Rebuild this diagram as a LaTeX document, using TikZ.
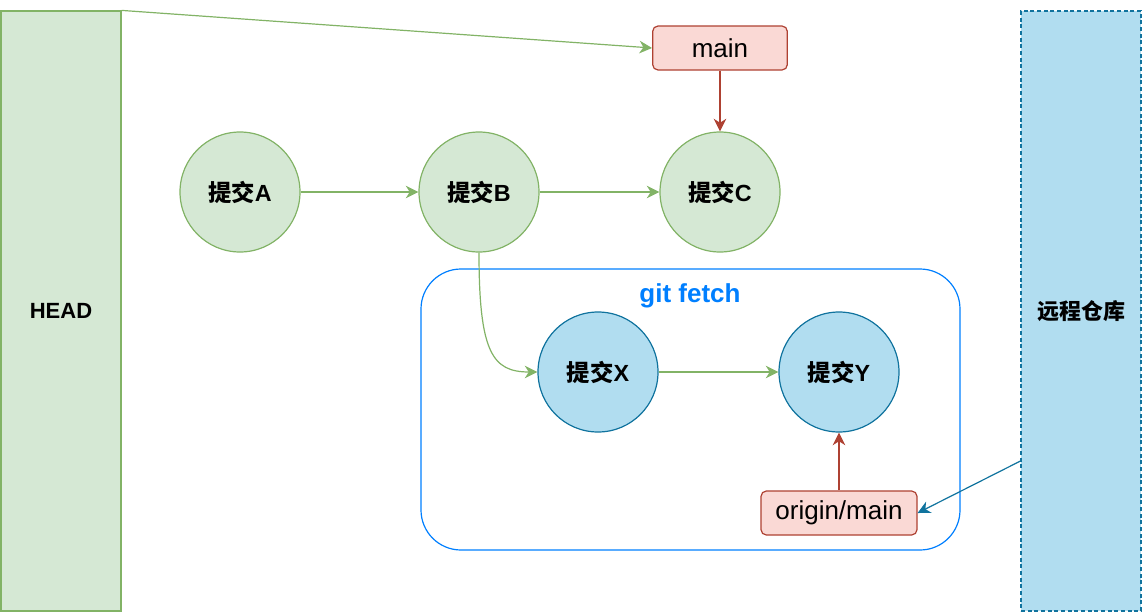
\documentclass[tikz,border=0pt]{standalone}
\usepackage{fontspec}
\setmainfont{Liberation Sans}
\newfontfamily\cjk{Noto Sans CJK SC}
\usetikzlibrary{arrows.meta}

\definecolor{greenfill}{HTML}{D5E8D4}
\definecolor{greendraw}{HTML}{82B366}
\definecolor{bluefill}{HTML}{B1DDF0}
\definecolor{bluedraw}{HTML}{10739E}
\definecolor{redfill}{HTML}{FAD9D5}
\definecolor{reddraw}{HTML}{AE4132}
\definecolor{fetchblue}{HTML}{007FFF}

\begin{document}
\begin{tikzpicture}[
    x=0.75pt,
    y=-0.75pt,
    line width=0.9pt,
    tip/.style={
        -{Stealth[length=9.5pt,width=9.5pt,inset=3pt]}
    },
    local commit/.style={
        circle,
        draw=greendraw,
        fill=greenfill,
        minimum size=90pt,
        font=\fontsize{17.5}{19}\selectfont\bfseries
    },
    fetched commit/.style={
        local commit,
        draw=bluedraw,
        fill=bluefill
    },
    branch/.style={
        draw=reddraw,
        fill=redfill,
        rounded corners=4pt,
        minimum height=33pt,
        font=\fontsize{19.5}{22}\selectfont
    },
    pointer/.style={
        minimum width=90pt,
        minimum height=450pt,
        font=\fontsize{16.5}{18}\selectfont\bfseries
    },
    ]
    \useasboundingbox (0,0) rectangle (1142,614);

    % git fetch frame
    \draw[fetchblue, rounded corners=30pt] (421,269) rectangle (960,550);
    \node[text=fetchblue, font=\fontsize{19.5}{22}\selectfont\bfseries]
        (fetch) at (690,296) {git fetch};

    \node[pointer, draw=greendraw, fill=greenfill] (head) at (61,311) {HEAD};
    \node[pointer, draw=bluedraw, fill=bluefill, dash pattern=on 3pt off 2pt]
        (remote) at (1081,311) {\cjk 远程仓库};

    \node[branch, minimum width=101pt] (main) at (720,48) {main};
    \node[branch, minimum width=117pt] (originmain) at (839,513) {origin/main};

    \node[local commit] (A) at (240,192) {{\cjk 提交}A};
    \node[local commit] (B) at (479,192) {{\cjk 提交}B};
    \node[local commit] (C) at (720,192) {{\cjk 提交}C};
    \node[fetched commit] (X) at (598,372) {{\cjk 提交}X};
    \node[fetched commit] (Y) at (839,372) {{\cjk 提交}Y};

    \draw[tip, greendraw] (head.north east) -- (main.west);
    \draw[tip, reddraw] (main) -- (C);
    \draw[tip, greendraw] (A) -- (B);
    \draw[tip, greendraw] (B) -- (C);
    \draw[tip, greendraw] (B.south) .. controls +(0,100) and +(-45,0) .. (X.west);
    \draw[tip, greendraw] (X) -- (Y);
    \draw[tip, reddraw] (originmain) -- (Y);
    \draw[tip, bluedraw] (remote.248) -- (originmain.east);
\end{tikzpicture}
\end{document}
